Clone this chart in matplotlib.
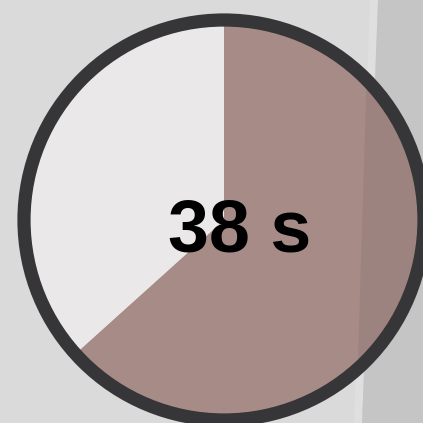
import matplotlib
matplotlib.use("Agg")
import matplotlib.pyplot as plt
from matplotlib.patches import Circle, Polygon

# timer data
elapsed = 38
remaining = 22
values = [elapsed, remaining]
label = "38 s"

W = H = 423
cx, cy = 224, H - 220  # centre of the dial (pixel coords, y up)
r = 200                # mid-line of the rim

fig = plt.figure(figsize=(4.23, 4.23), dpi=100, facecolor="#dadada")
ax = fig.add_axes([0, 0, 1, 1])
ax.set_facecolor("#dadada")

# background shading on the right
ax.add_patch(Polygon([(370, H), (378, H), (362, 0), (354, 0)], closed=True,
                     color="#dfdfdf", lw=0, zorder=0))
ax.add_patch(Polygon([(378, H), (W, H), (W, 0), (362, 0)], closed=True,
                     color="#c5c5c5", lw=0, zorder=0))

wedges, _ = ax.pie(values, colors=["#a68b87", "#ebe8e9"], startangle=90,
                   counterclock=False, radius=r, center=(cx, cy),
                   wedgeprops=dict(linewidth=0))

# darker tint over the right edge of the dial
shade = Polygon([(369, H), (W, H), (W, 0), (356, 0)], closed=True,
                color="black", alpha=0.05, lw=0, zorder=3)
ax.add_patch(shade)
shade.set_clip_path(wedges[0])

ax.add_patch(Circle((cx, cy), r, fill=False, edgecolor="#363638",
                    linewidth=13.2 * 72 / 100, zorder=4))

ax.text(240, H - 251, label, ha="center", va="baseline", fontsize=53,
        fontweight="bold", family="Liberation Sans", color="black", zorder=5)

ax.set_xlim(0, W)
ax.set_ylim(0, H)
ax.set_aspect("equal")
ax.axis("off")

fig.savefig("out.png", dpi=100, facecolor=fig.get_facecolor())
